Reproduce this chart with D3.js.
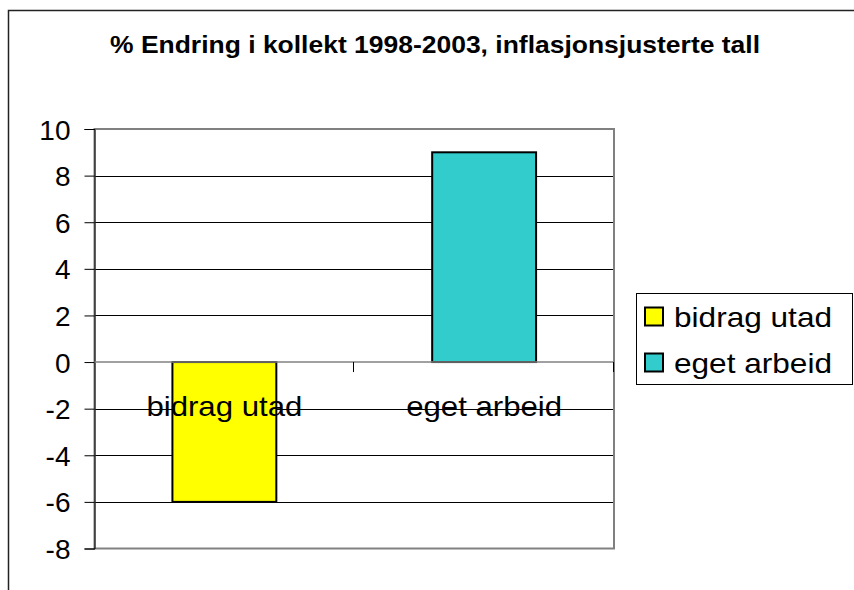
<!DOCTYPE html>
<html><head><meta charset="utf-8">
<script src="https://cdn.jsdelivr.net/npm/d3@7/dist/d3.min.js"></script>
<style>html,body{margin:0;padding:0;background:#fff;}svg{display:block;}</style>
</head><body>
<script>
const title = "% Endring i kollekt 1998-2003, inflasjonsjusterte tall";
const categories = ["bidrag utad", "eget arbeid"];
const values = [-6, 9];
const colors = ["#FFFF00", "#33CCCC"];
const yTicks = [-8, -6, -4, -2, 0, 2, 4, 6, 8, 10];

const W = 854, H = 590;
const font = "'Liberation Sans', Arial, sans-serif";
const svg = d3.select("body").append("svg").attr("width", W).attr("height", H);

// outer chart border (runs off right and bottom edges)
svg.append("rect").attr("x", 8.5).attr("y", 10.5).attr("width", 900).attr("height", 700)
  .attr("fill", "#fff").attr("stroke", "#222").attr("stroke-width", 1.5);

svg.append("text").attr("x", 435).attr("y", 53).attr("text-anchor", "middle")
  .attr("font-family", font).attr("font-weight", "bold").attr("font-size", 24)
  .attr("textLength", 650).attr("lengthAdjust", "spacingAndGlyphs").text(title);

const L = 94.5, R = 614, T = 129, B = 548.5;
const y = d3.scaleLinear().domain([-8, 10]).range([B, T]);
const x = d3.scaleBand().domain(categories).range([L, R]).paddingInner(0.6).paddingOuter(0.3);
const step = x.step();

// gridlines
svg.append("g").selectAll("line").data(yTicks.filter(d => d !== 0 && d !== 10 && d !== -8)).join("line")
  .attr("x1", L).attr("x2", R)
  .attr("y1", d => Math.round(y(d)) + 0.5).attr("y2", d => Math.round(y(d)) + 0.5)
  .attr("stroke", "#000").attr("stroke-width", 1);

// plot area border
svg.append("rect").attr("x", L).attr("y", T).attr("width", R - L).attr("height", B - T)
  .attr("fill", "none").attr("stroke", "#808080").attr("stroke-width", 2);

// y axis
const yAxis = d3.axisLeft(y).tickValues(yTicks).tickSize(10).tickPadding(14).tickFormat(d => String(d));
const gy = svg.append("g").attr("transform", `translate(${L},0)`).call(yAxis);
gy.select(".domain").attr("stroke", "#000").attr("stroke-width", 1);
gy.selectAll(".tick line").attr("stroke", "#000");
gy.selectAll(".tick text").attr("font-family", font).attr("font-size", 28).attr("fill", "#000")
  .attr("dy", "0.36em").attr("x", -24);

// bars
svg.append("g").selectAll("rect").data(values).join("rect")
  .attr("x", (d, i) => x(categories[i]))
  .attr("width", x.bandwidth())
  .attr("y", d => y(Math.max(0, d)))
  .attr("height", d => Math.abs(y(d) - y(0)))
  .attr("fill", (d, i) => colors[i])
  .attr("stroke", "#000").attr("stroke-width", 2);

// category axis at zero
svg.append("line").attr("x1", L).attr("x2", R).attr("y1", y(0)).attr("y2", y(0))
  .attr("stroke", "#808080").attr("stroke-width", 1.5);
svg.append("g").selectAll("line").data(d3.range(1, categories.length + 1)).join("line")
  .attr("x1", i => Math.round(L + i * step) - 0.5).attr("x2", i => Math.round(L + i * step) - 0.5)
  .attr("y1", y(0)).attr("y2", y(0) + 10).attr("stroke", "#000").attr("stroke-width", 1);

// category labels
svg.append("g").selectAll("text").data(categories).join("text")
  .attr("x", d => x(d) + x.bandwidth() / 2).attr("y", 416)
  .attr("text-anchor", "middle").attr("font-family", font).attr("font-size", 28)
  .attr("textLength", 156).attr("lengthAdjust", "spacingAndGlyphs").text(d => d);

// legend
const lg = svg.append("g");
lg.append("rect").attr("x", 636.5).attr("y", 293.5).attr("width", 216).attr("height", 91)
  .attr("fill", "#fff").attr("stroke", "#000").attr("stroke-width", 1);
categories.forEach((c, i) => {
  const cy = 316.5 + i * 46;
  lg.append("rect").attr("x", 645).attr("y", cy - 9).attr("width", 18).attr("height", 18)
    .attr("fill", colors[i]).attr("stroke", "#000").attr("stroke-width", 2);
  lg.append("text").attr("x", 674).attr("y", cy + 10).attr("font-family", font).attr("font-size", 28)
    .attr("textLength", 158).attr("lengthAdjust", "spacingAndGlyphs").text(c);
});
</script>
</body></html>
